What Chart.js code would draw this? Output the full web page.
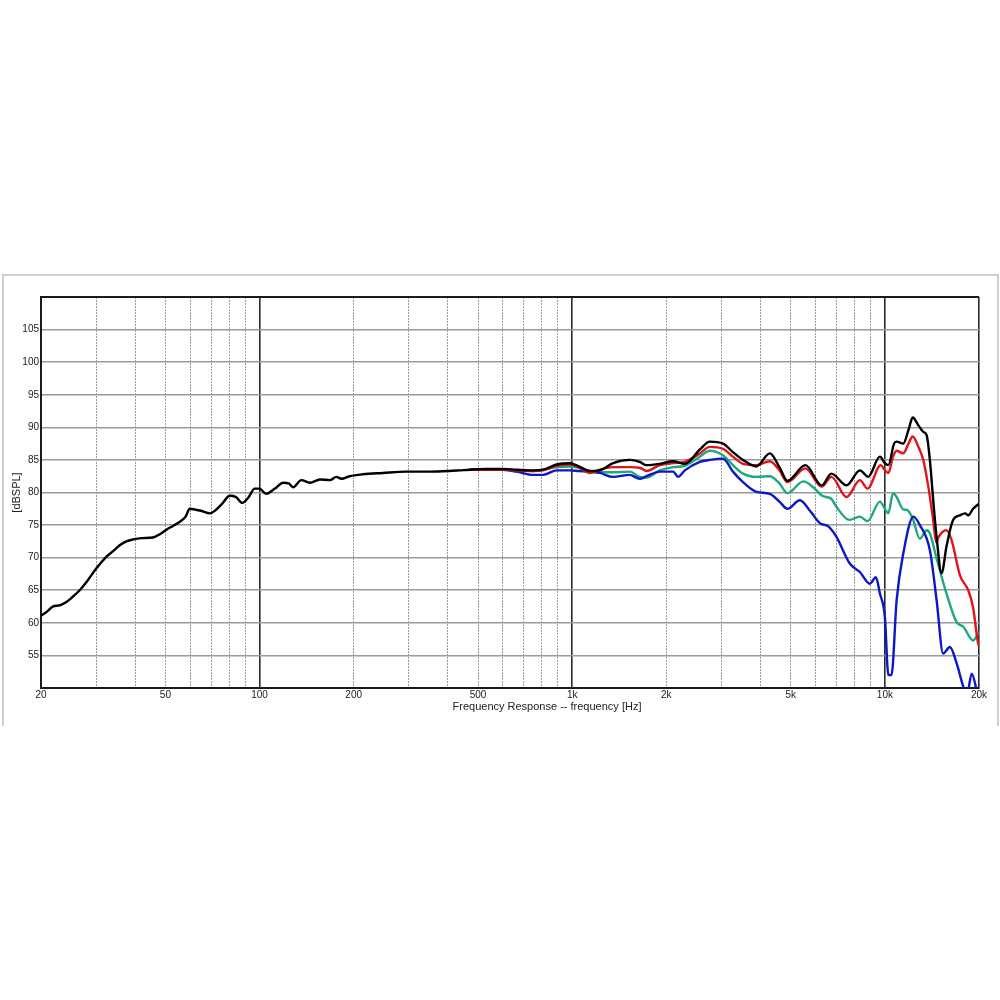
<!DOCTYPE html>
<html>
<head>
<meta charset="utf-8">
<script src="https://cdn.jsdelivr.net/npm/chart.js@4.4.1/dist/chart.umd.min.js"></script>
<style>
  body { margin: 0; background: #fff; }
  #wrap { position: relative; width: 1000px; height: 1000px; }
  #grafico { position: absolute; left: 0; top: 0; }
  #marco {
    position: absolute; left: 2px; top: 274px; width: 993px; height: 450px;
    border: 2px solid #cfcfcf; border-bottom: none;
  }
  #xlabel {
    position: absolute; left: 447px; top: 700px; width: 200px; text-align: center;
    font: 11px Arial, "Liberation Sans", sans-serif; color: #222; white-space: nowrap;
  }
</style>
</head>
<body>
<div id="wrap">
  <div id="marco"></div>
  <canvas id="grafico" width="1000" height="1000"></canvas>
  <div id="xlabel">Frequency Response -- frequency [Hz]</div>
</div>
<script>
// valores (Hz / dBSPL)
const blackHz = [20,21,21.8,23,24.1,25,26.6,28,30,32,
  34,35.7,37.5,39.4,42,45.6,48,50.4,53,55.6,
  58,59.8,62,65,69.3,72,76,80.3,84,88,
  92,96.5,100,105,112,119,124,128,136,145,
  156,168,176,183,194,214,248,295,350,405,
  437,470,530,601,664,750,807,891,982,1050,
  1138,1225,1351,1528,1644,1728,1906,2103,2292,2560,
  2754,3036,3266,3517,3882,4286,4600,4880,5570,6280,
  6745,7540,8320,8840,9640,10000,10258,10700,10905,11447,
  11900,12277,12800,13270,13600,13935,14278,14634,15180,15740,
  16500,17380,18060,18480,19140,20000];
const blackDb = [61.1,61.8,62.5,62.7,63.2,63.8,65.0,66.3,68.3,69.9,
  71.0,71.9,72.5,72.8,73.0,73.1,73.6,74.3,74.9,75.5,
  76.3,77.5,77.4,77.2,76.8,77.2,78.3,79.5,79.3,78.4,
  79.2,80.6,80.6,79.8,80.6,81.5,81.4,80.8,81.9,81.5,
  82.0,81.9,82.4,82.1,82.5,82.8,83.0,83.2,83.2,83.3,
  83.4,83.5,83.6,83.6,83.5,83.4,83.5,84.3,84.5,84.0,
  83.3,83.4,84.5,85.0,84.7,84.2,84.4,84.8,84.4,86.6,
  87.8,87.5,86.2,85.0,84.0,86.0,83.9,81.8,84.2,81.1,
  82.9,81.1,83.4,82.4,85.5,84.5,84.2,87.5,87.8,87.5,
  89.6,91.5,90.3,89.3,88.8,84.9,78.8,73.2,67.6,71.7,
  75.7,76.5,76.8,76.5,77.5,78.3];

const redHz = [470,530,601,664,750,807,891,982,1050,1138,
  1225,1351,1528,1644,1728,1906,2103,2292,2560,2754,
  3036,3266,3517,3882,4286,4600,4880,5570,6280,6745,
  7540,8320,8800,9700,10000,10258,10620,10905,11447,11900,
  12277,12800,13270,13600,13935,14278,14600,14860,15740,16340,
  17380,18480,19140,19880,20000];
const redDb = [83.5,83.5,83.5,83.4,83.3,83.4,84.1,84.3,83.9,83.0,
  83.5,83.9,83.9,83.8,83.3,84.2,84.5,84.7,86.0,87.0,
  86.7,85.5,84.4,84.2,84.8,83.4,81.6,83.7,80.9,82.4,
  79.3,81.9,80.6,84.2,83.4,83.0,85.5,86.4,86.0,87.5,
  88.6,87.0,85.0,82.4,79.3,75.7,72.3,73.2,74.2,72.7,
  67.3,65.0,62.4,56.8,56.5];

const greenHz = [470,601,750,891,982,1050,1138,1225,1351,1528,
  1644,1728,1906,2103,2292,2560,2754,3036,3266,3517,
  3882,4286,4600,4880,5490,5900,6300,6750,7000,7700,
  8316,8800,9640,10000,10258,10620,10905,11447,11800,12277,
  12940,13600,13935,14634,15740,16960,17820,19140,20000];
const greenDb = [83.5,83.5,83.3,83.9,84.0,83.8,83.2,83.1,83.1,83.2,
  82.4,82.3,83.4,83.9,84.1,85.5,86.4,85.7,84.2,82.9,
  82.4,82.5,81.4,79.9,81.7,80.8,79.5,79.0,77.8,75.8,
  76.3,75.6,78.6,77.5,76.8,79.9,79.3,77.4,77.3,76.0,
  72.9,74.2,73.7,69.9,64.5,60.1,59.4,57.3,58.6];

const blueHz = [470,601,664,750,807,891,982,1050,1138,1225,
  1351,1528,1644,1728,1906,2103,2182,2292,2560,2754,
  3036,3266,3517,3882,4286,4600,4880,5346,5800,6193,
  6590,7000,7723,8316,8956,9360,9640,10000,10258,10500,
  10905,11447,12340,12940,13935,14634,15360,16140,16960,17820,
  18300,18960,19680,20000];
const blueDb = [83.5,83.5,83.2,82.7,82.7,83.4,83.4,83.3,83.2,83.0,
  82.4,82.7,82.1,82.5,83.2,83.2,82.4,83.4,84.7,85.0,
  85.2,83.2,81.6,80.1,79.8,78.6,77.5,78.8,77.0,75.3,
  74.8,73.2,69.1,67.8,66.0,67.0,64.5,60.9,52.0,52.0,
  63.5,70.6,76.3,75.0,71.1,63.5,55.3,56.3,53.8,50.2,
  49.0,52.2,49.5,48.0];

// lineas de la rejilla y etiquetas
const xGrid = [20,30,40,50,60,70,80,90,100,200,300,400,500,600,700,800,900,
  1000,2000,3000,4000,5000,6000,7000,8000,9000,10000,20000];
const xLabels = {20:"20",50:"50",100:"100",200:"200",500:"500",1000:"1k",
  2000:"2k",5000:"5k",10000:"10k",20000:"20k"};
const yGrid = [50,55,60,65,70,75,80,85,90,95,100,105,110];
const xMajor = [20,100,1000,10000,20000];

function puntos(hz, db) {
  return hz.map((f, i) => ({ x: f, y: db[i] }));
}

function serie(hz, db, color) {
  return {
    data: puntos(hz, db),
    borderColor: color,
    borderWidth: 2.4,
    pointRadius: 0,
    cubicInterpolationMode: "monotone",
    clip: 0
  };
}

const fuente = "Arial, 'Liberation Sans', sans-serif";

const ctx = document.getElementById("grafico").getContext("2d");
// el primer dataset queda dibujado encima
const chart = new Chart(ctx, {
  type: "line",
  data: {
    datasets: [
      serie(blackHz, blackDb, "#000000"),
      serie(redHz, redDb, "#e2141b"),
      serie(blueHz, blueDb, "#0b18c8"),
      serie(greenHz, greenDb, "#1ea97c")
    ]
  },
  options: {
    responsive: false,
    animation: false,
    devicePixelRatio: 1,
    layout: { padding: { top: 297, right: 21, bottom: 287, left: 8 } },
    plugins: { legend: { display: false }, tooltip: { enabled: false } },
    scales: {
      x: {
        type: "logarithmic",
        min: 20,
        max: 20000,
        afterBuildTicks: (s) => { s.ticks = xGrid.map(v => ({ value: v })); },
        afterFit: (s) => { s.height = 25; },
        ticks: {
          autoSkip: false,
          maxRotation: 0,
          padding: 1,
          color: "#1a1a1a",
          font: { family: fuente, size: 10 },
          callback: (v) => xLabels[v] || ""
        },
        grid: {
          drawTicks: false,
          color: (c) => xMajor.includes(c.tick && c.tick.value) ? "#2a2a2a" : "#9c9c9c",
          lineWidth: (c) => xMajor.includes(c.tick && c.tick.value) ? 1.6 : 1
        },
        border: {
          color: "#1a1a1a",
          width: 2,
          dash: (c) => (c.type === "tick" && !xMajor.includes(c.tick.value)) ? [2, 1] : []
        }
      },
      y: {
        min: 50,
        max: 110,
        afterBuildTicks: (s) => { s.ticks = yGrid.map(v => ({ value: v })); },
        afterFit: (s) => { s.width = 33; },
        ticks: {
          padding: 2,
          color: "#1a1a1a",
          font: { family: fuente, size: 10 },
          callback: (v) => (v === 50 || v === 110) ? "" : String(v)
        },
        grid: {
          drawTicks: false,
          color: (c) => (c.tick && c.tick.value === 110) ? "#1a1a1a" : "#9a9a9a",
          lineWidth: (c) => (c.tick && c.tick.value === 110) ? 2 : 1.6
        },
        border: { color: "#1a1a1a", width: 2 },
        title: {
          display: true,
          text: "[dBSPL]",
          color: "#222",
          font: { family: fuente, size: 11 },
          padding: { top: 2, bottom: 0 }
        }
      }
    }
  }
});
</script>
</body>
</html>
